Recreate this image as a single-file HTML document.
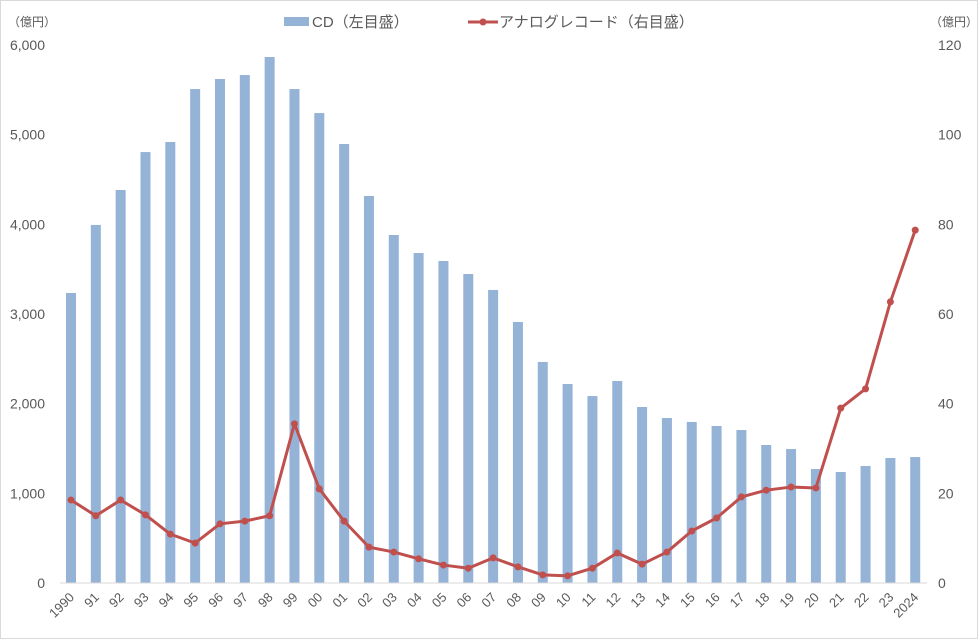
<!DOCTYPE html>
<html><head><meta charset="utf-8"><style>
body{margin:0;background:#fff}
svg{display:block;font-family:"Liberation Sans","Noto Sans CJK JP",sans-serif}
</style></head><body>
<svg id="c" width="978" height="639">
<rect x="0.5" y="0.5" width="977" height="638" fill="#fff" stroke="#d9d9d9"/>
<g id="g"></g>
</svg>
<script>
const years=["1990","91","92","93","94","95","96","97","98","99","00","01","02","03","04","05","06","07","08","09","10","11","12","13","14","15","16","17","18","19","20","21","22","23","2024"];
const cdValues=[3234,3993,4383,4806,4918,5509,5621,5665,5866,5509,5241,4896,4316,3881,3680,3591,3446,3268,2911,2465,2219,2085,2253,1963,1840,1796,1751,1706,1539,1494,1271,1238,1305,1394,1405];
const vinylValues=[18.5,15,18.5,15.2,10.9,8.9,13.2,13.8,15,35.5,21,13.8,8,6.9,5.4,4,3.3,5.6,3.6,1.8,1.6,3.3,6.7,4.2,6.9,11.6,14.5,19.2,20.7,21.4,21.2,39,43.3,62.7,78.7];
const leftTicks=[0,1000,2000,3000,4000,5000,6000];
const leftTickLabels=["0","1,000","2,000","3,000","4,000","5,000","6,000"];
const rightTicks=[0,20,40,60,80,100,120];
const NS="http://www.w3.org/2000/svg";
const g=document.getElementById('g');
const y0=583,yTop=45,x0=71,step=24.83;
const yL=v=>y0-(v/6000)*(y0-yTop);
const yR=v=>y0-(v/120)*(y0-yTop);
const xC=i=>x0+i*step;
function mk(t,a,txt){const e=document.createElementNS(NS,t);for(const k in a)e.setAttribute(k,a[k]);if(txt!==undefined)e.textContent=txt;g.appendChild(e);return e;}
leftTicks.forEach((v,i)=>{const e=mk('text',{x:45,y:yL(v)+5,'text-anchor':'end','font-size':14,fill:'#595959'},leftTickLabels[i]);

});
rightTicks.forEach(v=>{const e=mk('text',{x:938,y:yR(v)+5,'font-size':14,fill:'#595959'},String(v));

});
let e=mk('text',{x:8,y:26,'font-size':12,fill:'#595959'},'（億円）');


e=mk('text',{x:930,y:26,'font-size':12,fill:'#595959'},'（億円）');


cdValues.forEach((v,i)=>{const b=mk('rect',{x:xC(i)-5,y:yL(v),width:10,height:y0-yL(v),fill:'#95b3d7'});

});
e=mk('line',{x1:60,x2:927,y1:y0,y2:y0,stroke:'#d9d9d9','stroke-width':1});


const pts=vinylValues.map((v,i)=>xC(i)+','+yR(v)).join(' ');
e=mk('polyline',{points:pts,fill:'none',stroke:'#c0504d','stroke-width':3,'stroke-linejoin':'round'});


vinylValues.forEach((v,i)=>{const c=mk('circle',{cx:xC(i),cy:yR(v),r:3.5,fill:'#c0504d'});

});
years.forEach((y,i)=>{const x=xC(i)+4,yy=598;const t=mk('text',{x:x,y:yy,'font-size':13,fill:'#595959','text-anchor':'end',transform:`rotate(-45 ${x} ${yy})`},y);

});
e=mk('rect',{x:284,y:17,width:25,height:9,fill:'#95b3d7'});


e=mk('text',{x:312,y:27,'font-size':15,fill:'#595959'},'CD（左目盛）');


e=mk('line',{x1:468,x2:498,y1:22,y2:22,stroke:'#c0504d','stroke-width':3});


e=mk('circle',{cx:483,cy:22,r:3.5,fill:'#c0504d'});


e=mk('text',{x:499,y:27,'font-size':15,fill:'#595959'},'アナログレコード（右目盛）');


</script>
</body></html>
